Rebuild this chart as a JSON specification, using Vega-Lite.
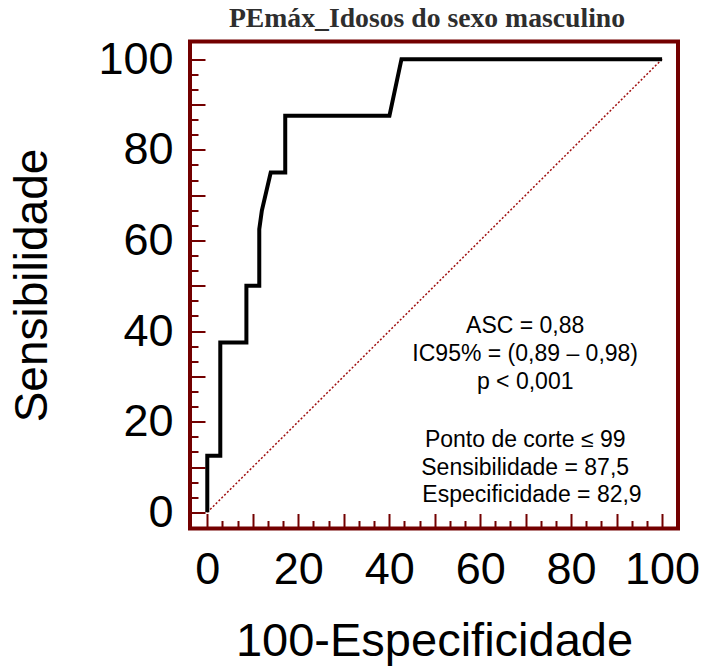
{
  "$schema": "https://vega.github.io/schema/vega-lite/v6.json",
  "width": 488,
  "height": 487,
  "autosize": "none",
  "padding": {"left": 190, "top": 41.5, "right": 26, "bottom": 138.5},
  "background": "white",
  "title": {
    "text": "PEmáx_Idosos do sexo masculino",
    "font": "Liberation Serif",
    "fontSize": 27.7,
    "fontWeight": "bold",
    "color": "#2e2e2e",
    "frame": "group",
    "anchor": "middle",
    "baseline": "alphabetic",
    "offset": -18,
    "dx": -7
  },
  "config": {
    "view": {"stroke": "#730000", "strokeWidth": 4},
    "axis": {
      "domain": false,
      "grid": false,
      "tickColor": "#730000",
      "tickWidth": 2,
      "labelFont": "Liberation Sans",
      "labelColor": "black",
      "labelFontSize": 45,
      "labelFlush": false,
      "labelOverlap": false,
      "titleFont": "Liberation Sans",
      "titleColor": "black",
      "titleFontWeight": "normal"
    },
    "axisX": {
      "title": "100-Especificidade",
      "titleFontSize": 47,
      "titlePadding": 19,
      "values": [0,3.333,6.667,10,13.333,16.667,20,23.333,26.667,30,33.333,36.667,40,43.333,46.667,50,53.333,56.667,60,63.333,66.667,70,73.333,76.667,80,83.333,86.667,90,93.333,96.667,100],
      "tickSize": {"condition": {"test": "abs(datum.value/10 - round(datum.value/10)) < 0.01", "value": -15}, "value": -8},
      "labelExpr": "abs(datum.value/20 - round(datum.value/20)) < 0.01 ? format(datum.value, 'd') : ''",
      "labelPadding": 34
    },
    "axisY": {
      "title": "Sensibilidade",
      "titleFontSize": 46,
      "titlePadding": 41,
      "values": [0,3.333,6.667,10,13.333,16.667,20,23.333,26.667,30,33.333,36.667,40,43.333,46.667,50,53.333,56.667,60,63.333,66.667,70,73.333,76.667,80,83.333,86.667,90,93.333,96.667,100],
      "tickSize": {"condition": {"test": "abs(datum.value/10 - round(datum.value/10)) < 0.01", "value": -15}, "value": -8},
      "labelExpr": "abs(datum.value/20 - round(datum.value/20)) < 0.01 ? format(datum.value, 'd') : ''",
      "labelPadding": 32
    }
  },
  "layer": [
    {
      "data": {"values": [{"x": 0, "y": 0}, {"x": 100, "y": 100}]},
      "mark": {"type": "line", "color": "#a01010", "strokeWidth": 1.5, "strokeDash": [2, 2]},
      "encoding": {
        "x": {
          "field": "x",
          "type": "quantitative",
          "scale": {"domain": [-3.8, 103.5], "nice": false, "zero": false},
          "axis": {
            "title": "100-Especificidade",
            "values": [0,3.333,6.667,10,13.333,16.667,20,23.333,26.667,30,33.333,36.667,40,43.333,46.667,50,53.333,56.667,60,63.333,66.667,70,73.333,76.667,80,83.333,86.667,90,93.333,96.667,100],
            "labelOverlap": false,
            "labelFlush": false
          }
        },
        "y": {
          "field": "y",
          "type": "quantitative",
          "scale": {"domain": [-3.57, 103.9], "nice": false, "zero": false},
          "axis": {
            "title": "Sensibilidade",
            "values": [0,3.333,6.667,10,13.333,16.667,20,23.333,26.667,30,33.333,36.667,40,43.333,46.667,50,53.333,56.667,60,63.333,66.667,70,73.333,76.667,80,83.333,86.667,90,93.333,96.667,100],
            "labelOverlap": false,
            "labelFlush": false
          }
        }
      }
    },
    {
      "data": {"values": [
        {"i": 0, "x": 0, "y": 0},
        {"i": 1, "x": 0, "y": 12.5},
        {"i": 2, "x": 2.86, "y": 12.5},
        {"i": 3, "x": 2.86, "y": 37.5},
        {"i": 4, "x": 8.6, "y": 37.5},
        {"i": 5, "x": 8.6, "y": 50},
        {"i": 6, "x": 11.43, "y": 50},
        {"i": 7, "x": 11.43, "y": 62.5},
        {"i": 8, "x": 12.0, "y": 66.6},
        {"i": 9, "x": 13.95, "y": 75},
        {"i": 10, "x": 17.14, "y": 75},
        {"i": 11, "x": 17.14, "y": 87.5},
        {"i": 12, "x": 40.05, "y": 87.5},
        {"i": 13, "x": 42.7, "y": 100},
        {"i": 14, "x": 100, "y": 100}
      ]},
      "mark": {"type": "line", "color": "black", "strokeWidth": 4, "strokeJoin": "miter", "strokeCap": "butt"},
      "encoding": {
        "x": {
          "field": "x",
          "type": "quantitative",
          "axis": {
            "title": "100-Especificidade",
            "values": [0,3.333,6.667,10,13.333,16.667,20,23.333,26.667,30,33.333,36.667,40,43.333,46.667,50,53.333,56.667,60,63.333,66.667,70,73.333,76.667,80,83.333,86.667,90,93.333,96.667,100],
            "labelOverlap": false,
            "labelFlush": false
          }
        },
        "y": {
          "field": "y",
          "type": "quantitative",
          "axis": {
            "title": "Sensibilidade",
            "values": [0,3.333,6.667,10,13.333,16.667,20,23.333,26.667,30,33.333,36.667,40,43.333,46.667,50,53.333,56.667,60,63.333,66.667,70,73.333,76.667,80,83.333,86.667,90,93.333,96.667,100],
            "labelOverlap": false,
            "labelFlush": false
          }
        },
        "order": {"field": "i", "type": "quantitative"}
      }
    },
    {
      "data": {"values": [{"label": "ASC = 0,88\nIC95% = (0,89 – 0,98)\np < 0,001"}]},
      "mark": {"type": "text", "font": "Liberation Sans", "fontSize": 23, "color": "black", "align": "center", "baseline": "alphabetic", "lineHeight": 28, "lineBreak": "\n"},
      "encoding": {
        "x": {
          "datum": 69.9,
          "type": "quantitative",
          "axis": {
            "title": "100-Especificidade",
            "values": [0,3.333,6.667,10,13.333,16.667,20,23.333,26.667,30,33.333,36.667,40,43.333,46.667,50,53.333,56.667,60,63.333,66.667,70,73.333,76.667,80,83.333,86.667,90,93.333,96.667,100],
            "labelOverlap": false,
            "labelFlush": false
          }
        },
        "y": {
          "datum": 39.5,
          "type": "quantitative",
          "axis": {
            "title": "Sensibilidade",
            "values": [0,3.333,6.667,10,13.333,16.667,20,23.333,26.667,30,33.333,36.667,40,43.333,46.667,50,53.333,56.667,60,63.333,66.667,70,73.333,76.667,80,83.333,86.667,90,93.333,96.667,100],
            "labelOverlap": false,
            "labelFlush": false
          }
        },
        "text": {"field": "label", "type": "nominal"}
      }
    },
    {
      "data": {"values": [{"label": "Ponto de corte ≤ 99\nSensibilidade = 87,5"}]},
      "mark": {"type": "text", "font": "Liberation Sans", "fontSize": 23, "color": "black", "align": "center", "baseline": "alphabetic", "lineHeight": 28, "lineBreak": "\n"},
      "encoding": {
        "x": {
          "datum": 69.9,
          "type": "quantitative",
          "axis": {
            "title": "100-Especificidade",
            "values": [0,3.333,6.667,10,13.333,16.667,20,23.333,26.667,30,33.333,36.667,40,43.333,46.667,50,53.333,56.667,60,63.333,66.667,70,73.333,76.667,80,83.333,86.667,90,93.333,96.667,100],
            "labelOverlap": false,
            "labelFlush": false
          }
        },
        "y": {
          "datum": 14.45,
          "type": "quantitative",
          "axis": {
            "title": "Sensibilidade",
            "values": [0,3.333,6.667,10,13.333,16.667,20,23.333,26.667,30,33.333,36.667,40,43.333,46.667,50,53.333,56.667,60,63.333,66.667,70,73.333,76.667,80,83.333,86.667,90,93.333,96.667,100],
            "labelOverlap": false,
            "labelFlush": false
          }
        },
        "text": {"field": "label", "type": "nominal"}
      }
    },
    {
      "data": {"values": [{"label": "Especificidade = 82,9"}]},
      "mark": {"type": "text", "font": "Liberation Sans", "fontSize": 23, "color": "black", "align": "center", "baseline": "alphabetic"},
      "encoding": {
        "x": {
          "datum": 71.4,
          "type": "quantitative",
          "axis": {
            "title": "100-Especificidade",
            "values": [0,3.333,6.667,10,13.333,16.667,20,23.333,26.667,30,33.333,36.667,40,43.333,46.667,50,53.333,56.667,60,63.333,66.667,70,73.333,76.667,80,83.333,86.667,90,93.333,96.667,100],
            "labelOverlap": false,
            "labelFlush": false
          }
        },
        "y": {
          "datum": 2.35,
          "type": "quantitative",
          "axis": {
            "title": "Sensibilidade",
            "values": [0,3.333,6.667,10,13.333,16.667,20,23.333,26.667,30,33.333,36.667,40,43.333,46.667,50,53.333,56.667,60,63.333,66.667,70,73.333,76.667,80,83.333,86.667,90,93.333,96.667,100],
            "labelOverlap": false,
            "labelFlush": false
          }
        },
        "text": {"field": "label", "type": "nominal"}
      }
    }
  ]
}
